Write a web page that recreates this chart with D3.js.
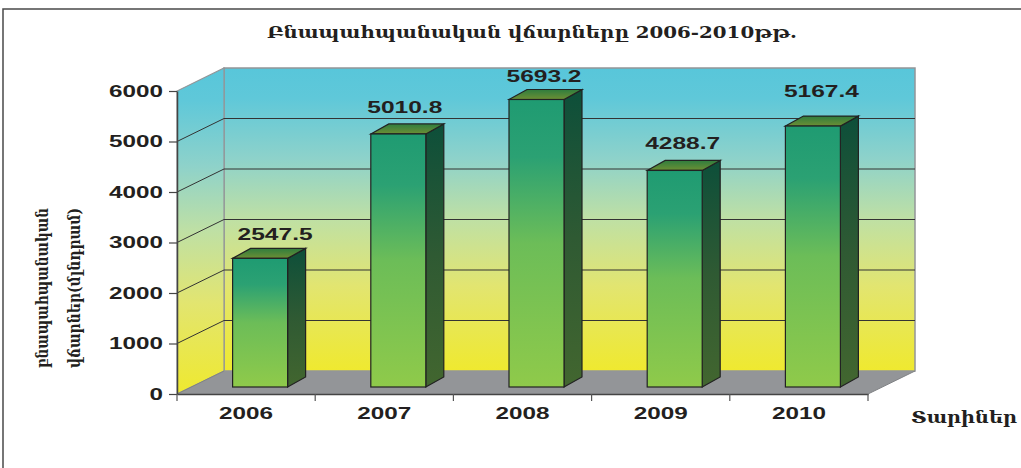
<!DOCTYPE html>
<html><head><meta charset="utf-8">
<script src="https://cdnjs.cloudflare.com/ajax/libs/d3/7.8.5/d3.min.js"></script>
<style>html,body{margin:0;padding:0;background:#fff;overflow:hidden}svg{display:block}</style>
</head><body><svg id="c" width="1021" height="468"></svg>
<script>
const years=["2006","2007","2008","2009","2010"];
const values=[2547.5,5010.8,5693.2,4288.7,5167.4];
const yTicks=[0,1000,2000,3000,4000,5000,6000];
const titleText="Բնապահպանական վճարները 2006-2010թթ.";
const yTitleLines=["բնապահպանական","վճարներ(մլնդրամ)"];
const xTitle="Տարիներ";
const labelDx=[15,6.5,7.5,8,8.5];
const labelDy=[-18,-21,-17.5,-21,-29];

const svg=d3.select("#c");
const x=d3.scaleBand().domain(years).range([177,868]);
const y=d3.scaleLinear().domain([0,6000]).range([394,91]);
const dx=47,dy=-23;
const fdy=-7, bw=55, bdx=18, bdy=-10;
const defs=svg.append("defs");
function grad(id,stops){
  const g=defs.append("linearGradient").attr("id",id).attr("x1",0).attr("y1",0).attr("x2",0).attr("y2",1);
  stops.forEach(s=>g.append("stop").attr("offset",s[0]).attr("stop-color",s[1]));
}
grad("wall",[[0,"#58c6da"],[0.1,"#5fc8d9"],[0.3,"#8ed2ca"],[0.5,"#bfe0a4"],[0.72,"#e2e570"],[1,"#efe92f"]]);
grad("front",[[0,"#1f9b72"],[0.2,"#2ba173"],[0.5,"#6cbd58"],[1,"#8fca4a"]]);
grad("side",[[0,"#0d4f3a"],[0.5,"#2f5a33"],[1,"#42662f"]]);
grad("top",[[0,"#2f7d3e"],[1,"#6d8f34"]]);

svg.append("rect").attr("x",3).attr("y",9).attr("width",1030).attr("height",470).attr("fill","#fff").attr("stroke","#4a4a4a").attr("stroke-width",1.5);

const pts=a=>a.map(p=>p.join(",")).join(" ");
const x0=x.range()[0],x1=x.range()[1],yb=y(0),yt=y(6000);
svg.append("polygon").attr("points",pts([[x0,yb],[x0+dx,yb+dy],[x1+dx,yb+dy],[x1,yb]])).attr("fill","#939598");
svg.append("rect").attr("x",x0+dx).attr("y",yt+dy).attr("width",x1-x0).attr("height",yb-yt).attr("fill","url(#wall)").attr("stroke","#939598").attr("stroke-width",1.5);
svg.append("polygon").attr("points",pts([[x0,yb],[x0+dx,yb+dy],[x0+dx,yt+dy],[x0,yt]])).attr("fill","url(#wall)").attr("stroke","#939598").attr("stroke-width",1.2);
svg.append("line").attr("x1",x0).attr("x2",x0+dx).attr("y1",yb).attr("y2",yb+dy).attr("stroke","#808285");
yTicks.filter(t=>t>0&&t<6000).forEach(t=>{
  svg.append("polyline").attr("points",pts([[x0,y(t)],[x0+dx,y(t)+dy],[x1+dx,y(t)+dy]])).attr("fill","none").attr("stroke","#333").attr("stroke-width",1);
});
svg.append("line").attr("x1",x1).attr("x2",x1+dx).attr("y1",yb).attr("y2",yb+dy).attr("stroke","#808285");
const fam='"Liberation Sans",Arial,sans-serif';
const yAxis=svg.append("g").attr("transform",`translate(${x0},0)`).call(d3.axisLeft(y).tickValues(yTicks).tickFormat(d3.format("d")).tickSize(8).tickSizeOuter(0).tickPadding(6));
const xAxis=svg.append("g").attr("transform",`translate(0,${yb})`).call(d3.axisBottom(x).tickSize(0).tickSizeOuter(0).tickPadding(13));
[yAxis,xAxis].forEach(g=>{
  g.selectAll("path.domain").attr("stroke","#444").attr("stroke-width",1.5);
  g.selectAll("line").attr("stroke","#444").attr("stroke-width",1.2);
  g.selectAll("text").attr("font-family",fam).attr("font-weight","bold").attr("font-size",17).attr("fill","#231f20");
});
yAxis.selectAll("text").attr("textLength",d=>String(d).length*13.5).attr("lengthAdjust","spacingAndGlyphs");
xAxis.selectAll("text").attr("textLength",54).attr("lengthAdjust","spacingAndGlyphs");
svg.selectAll(".xt").data(years.concat(["end"])).join("line").attr("class","xt")
 .attr("x1",(d,i)=>x0+i*x.step()).attr("x2",(d,i)=>x0+i*x.step()).attr("y1",yb).attr("y2",yb+7).attr("stroke","#555").attr("stroke-width",1.2);
const bx=d=>x(d)+x.bandwidth()/2-bw/2+14;
const by0=yb+fdy;
const bars=svg.selectAll(".bar").data(years.map((d,i)=>({d,v:values[i],i}))).join("g").attr("class","bar");
bars.append("polygon").attr("points",o=>pts([[bx(o.d)+bw,by0],[bx(o.d)+bw+bdx,by0+bdy],[bx(o.d)+bw+bdx,y(o.v)+fdy+bdy],[bx(o.d)+bw,y(o.v)+fdy]])).attr("fill","url(#side)").attr("stroke","#222").attr("stroke-width",1.2);
bars.append("polygon").attr("points",o=>pts([[bx(o.d),y(o.v)+fdy],[bx(o.d)+bdx,y(o.v)+fdy+bdy],[bx(o.d)+bw+bdx,y(o.v)+fdy+bdy],[bx(o.d)+bw,y(o.v)+fdy]])).attr("fill","url(#top)").attr("stroke","#222").attr("stroke-width",1.2);
bars.append("rect").attr("x",o=>bx(o.d)).attr("y",o=>y(o.v)+fdy).attr("width",bw).attr("height",o=>by0-(y(o.v)+fdy)).attr("fill","url(#front)").attr("stroke","#222").attr("stroke-width",1.2);
bars.append("text").attr("x",o=>bx(o.d)+bw/2+labelDx[o.i]).attr("y",o=>y(o.v)+fdy+labelDy[o.i]).attr("text-anchor","middle")
 .attr("font-family",fam).attr("font-weight","bold").attr("font-size",17).attr("fill","#231f20").text(o=>o.v.toFixed(1)).attr("textLength",75).attr("lengthAdjust","spacingAndGlyphs");
const arm='"DejaVu Serif",serif';
svg.append("text").attr("x",267).attr("y",38).attr("font-family",arm).attr("font-weight","bold").attr("font-size",16).attr("fill","#231f20").text(titleText).attr("textLength",530).attr("lengthAdjust","spacingAndGlyphs");
svg.append("text").attr("x",911).attr("y",423).attr("font-family",arm).attr("font-weight","bold").attr("font-size",17).attr("fill","#231f20").text(xTitle).attr("textLength",106).attr("lengthAdjust","spacingAndGlyphs");
[[48,368,160],[80,368,160]].forEach((p,i)=>{
  svg.append("text").attr("transform",`translate(${p[0]},${p[1]}) rotate(-90)`).attr("font-family",arm).attr("font-weight","bold").attr("font-size",16).attr("fill","#231f20").text(yTitleLines[i]).attr("textLength",p[2]).attr("lengthAdjust","spacingAndGlyphs");
});
</script></body></html>
